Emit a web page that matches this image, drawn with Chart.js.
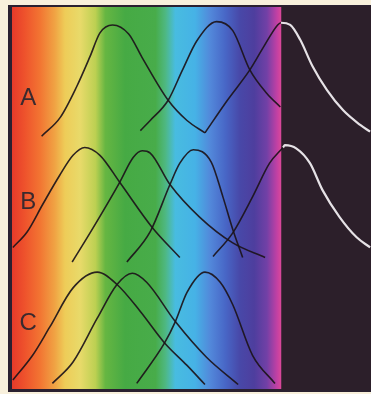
<!DOCTYPE html>
<html>
<head>
<meta charset="utf-8">
<script src="https://cdn.jsdelivr.net/npm/chart.js@4.4.1/dist/chart.umd.min.js"></script>
<style>
  html, body { margin: 0; padding: 0; background: #f8f0dc; }
  #spectra { display: block; }
</style>
</head>
<body>
<canvas id="spectra" width="371" height="394"></canvas>
<script>
// wavelength (nm) and relative absorbance for every curve, read per panel
const panelNames = ['A', 'B', 'C'];
const panelBase = [2.2, 1.12, 0];
const labelLevel = [0.35, 0.5, 0.54];
const visibleEdge = 400.5; // past this (UV side) the curves are drawn white

const curveA1 = [[667, 0.01], [646, 0.18], [628, 0.45], [613, 0.72], [602, 0.93], [588, 1.0], [570, 0.92], [555, 0.71], [526, 0.33], [505, 0.15], [485, 0.04]];
const curveA2 = [[557, 0.06], [546, 0.15], [526, 0.33], [510, 0.6], [494, 0.86], [472, 1.03], [454, 0.95], [435, 0.6], [416, 0.39], [401, 0.27]];
const curveA3 = [[485, 0.04], [460, 0.33], [435, 0.6], [420, 0.8], [404, 1.0], [400.3, 1.02], [390, 1.0], [379, 0.87], [365, 0.63], [349, 0.42], [331, 0.24], [312, 0.11], [301, 0.05]];

const curveB1 = [[699, 0.1], [683, 0.24], [666, 0.48], [647, 0.74], [632, 0.92], [619, 0.99], [602, 0.92], [580, 0.68], [544, 0.28], [513, 0.01]];
const curveB2 = [[633, -0.03], [610, 0.27], [580, 0.68], [565, 0.9], [555, 0.96], [546, 0.94], [524, 0.66], [491, 0.37], [454, 0.14], [418, 0.01]];
const curveB3 = [[572, -0.03], [546, 0.24], [524, 0.66], [513, 0.85], [498, 0.97], [478, 0.86], [465, 0.55], [454, 0.26], [443, 0.01]];
const curveB4 = [[476, 0.02], [454, 0.23], [432, 0.55], [413, 0.85], [398, 0.99], [396, 1.01], [383, 0.98], [368, 0.85], [354, 0.61], [335, 0.37], [316, 0.19], [301, 0.1]];

const curveC1 = [[699, 0.04], [677, 0.26], [658, 0.51], [632, 0.86], [605, 1.0], [583, 0.89], [557, 0.65], [530, 0.37], [505, 0.17], [485, 0.0]];
const curveC2 = [[655, 0.01], [632, 0.2], [605, 0.59], [583, 0.89], [566, 0.99], [550, 0.91], [518, 0.56], [483, 0.24], [448, 0.0]];
const curveC3 = [[561, 0.01], [530, 0.37], [518, 0.56], [505, 0.82], [485, 1.0], [468, 0.91], [454, 0.71], [432, 0.26], [407, 0.01]];

const panelCurves = [
  [curveA1, curveA2, curveA3],
  [curveB1, curveB2, curveB3, curveB4],
  [curveC1, curveC2, curveC3]
];

// spectrum colours from red (700 nm) to violet (400 nm)
const spectrumNm = [700, 686, 669, 652, 641, 624, 607, 596, 574, 540, 529, 518, 496, 479, 462, 446, 430, 416, 405, 400];
const spectrumColors = ['#e63a2a', '#ee522c', '#f27432', '#f0a444', '#eecc58', '#e8da6a', '#bcd052', '#66b642', '#46aa44', '#48ac4a', '#4eb882', '#48bce0', '#46b2e6', '#5288da', '#4866c6', '#4848a8', '#4e3e9e', '#7240a6', '#c040a4', '#dc4898'];

const inkColor = 'rgba(28, 20, 26, 0.92)';
const uvColor = '#e6e2e6';

const datasets = [];
panelCurves.forEach((curves, p) => {
  curves.forEach(pts => {
    datasets.push({
      data: pts.map(([nm, v]) => ({ x: nm, y: panelBase[p] + v })),
      borderColor: inkColor,
      borderWidth: 1.6,
      pointRadius: 0,
      fill: false,
      cubicInterpolationMode: 'monotone',
      segment: {
        borderColor: ctx => ctx.p0.parsed.x < visibleEdge ? uvColor : inkColor,
        borderWidth: ctx => ctx.p0.parsed.x < visibleEdge ? 2.2 : 1.6
      }
    });
  });
});

const backdrop = {
  id: 'backdrop',
  beforeDatasetsDraw(chart) {
    const { ctx, chartArea, scales } = chart;
    const xs = scales.x;
    const left = xs.getPixelForValue(700);
    const edge = xs.getPixelForValue(400);
    ctx.save();
    ctx.fillStyle = '#2a2030';
    ctx.fillRect(left - 4, chartArea.top - 2, chart.width - left + 4, chartArea.bottom - chartArea.top + 5);
    ctx.fillStyle = '#2c1f2a';
    ctx.fillRect(edge, chartArea.top - 1, chart.width - edge, chartArea.bottom - chartArea.top + 2);
    const grad = ctx.createLinearGradient(left, 0, edge, 0);
    spectrumNm.forEach((nm, i) => {
      grad.addColorStop((700 - nm) / 300, spectrumColors[i]);
    });
    ctx.fillStyle = grad;
    ctx.fillRect(left, chartArea.top, edge - left, chartArea.bottom - chartArea.top);
    ctx.restore();
  },
  afterDatasetsDraw(chart) {
    const { ctx, scales } = chart;
    ctx.save();
    ctx.fillStyle = '#3a2a2e';
    ctx.font = '24px "Liberation Sans", Arial, sans-serif';
    ctx.textAlign = 'center';
    ctx.textBaseline = 'middle';
    panelNames.forEach((name, p) => {
      ctx.fillText(name, scales.x.getPixelForValue(682), scales.y.getPixelForValue(panelBase[p] + labelLevel[p]));
    });
    ctx.restore();
  }
};

new Chart(document.getElementById('spectra').getContext('2d'), {
  type: 'line',
  data: { datasets },
  options: {
    responsive: false,
    animation: false,
    devicePixelRatio: 1,
    layout: { padding: { left: 12, top: 7, right: 0, bottom: 5 } },
    plugins: { legend: { display: false }, tooltip: { enabled: false } },
    scales: {
      x: { type: 'linear', min: 300, max: 700, reverse: true, display: false },
      y: { type: 'linear', min: -0.04, max: 3.36, display: false }
    }
  },
  plugins: [backdrop]
});
</script>
</body>
</html>
